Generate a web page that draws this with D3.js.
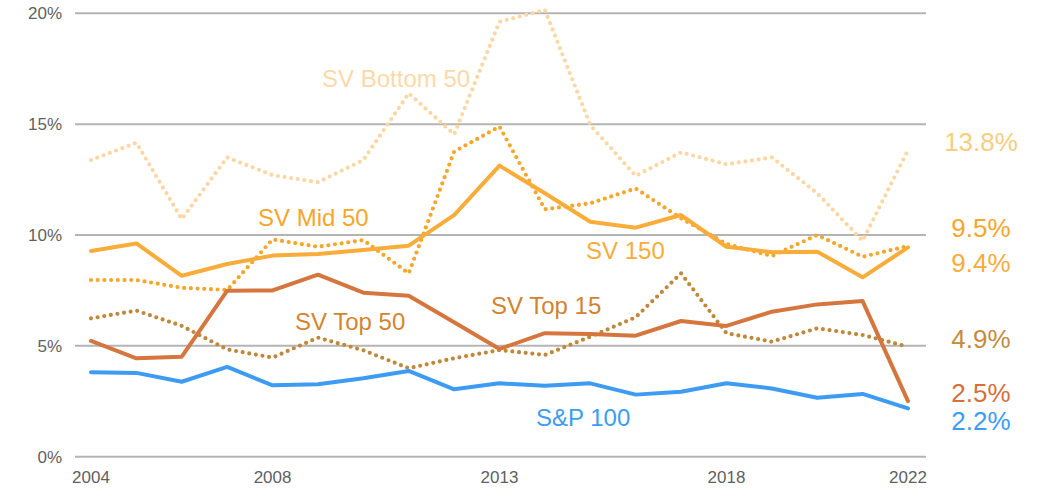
<!DOCTYPE html>
<html>
<head>
<meta charset="utf-8">
<script src="https://cdn.jsdelivr.net/npm/d3@7"></script>
<style>
  html, body { margin: 0; padding: 0; background: #fff; }
  svg { display: block; font-family: "Liberation Sans", Arial, sans-serif; }
</style>
</head>
<body>
<svg id="chart" width="1051" height="492"></svg>
<script>
const years = [2004,2005,2006,2007,2008,2009,2010,2011,2012,2013,2014,2015,2016,2017,2018,2019,2020,2021,2022];
const xTickLabels = [2004, 2008, 2013, 2018, 2022];
const yTicks = [0, 5, 10, 15, 20];

const sp100      = [3.81,3.78,3.38,4.05,3.22,3.27,3.54,3.87,3.04,3.31,3.20,3.31,2.80,2.93,3.31,3.08,2.66,2.83,2.18];
const svTop15    = [5.22,4.44,4.51,7.49,7.50,8.21,7.40,7.26,6.06,4.86,5.57,5.53,5.46,6.12,5.90,6.54,6.87,7.02,2.51];
const svTop50    = [6.24,6.59,5.90,4.84,4.47,5.37,4.80,3.99,4.44,4.81,4.59,5.41,6.29,8.27,5.57,5.19,5.79,5.49,4.96];
const sv150      = [9.28,9.62,8.16,8.69,9.07,9.14,9.32,9.52,10.90,13.13,11.88,10.60,10.33,10.90,9.47,9.22,9.25,8.09,9.44];
const svMid50    = [7.97,7.97,7.62,7.52,9.80,9.47,9.77,8.27,13.76,14.89,11.16,11.43,12.10,10.75,9.60,9.05,10.00,9.02,9.50];
const svBottom50 = [13.38,14.16,10.72,13.50,12.70,12.38,13.38,16.39,14.54,19.62,20.15,14.96,12.67,13.73,13.19,13.50,11.88,9.74,13.83];

const seriesNames = ["SV Bottom 50","SV Mid 50","SV 150","SV Top 50","SV Top 15","S&P 100"];
const seriesValues = [svBottom50, svMid50, sv150, svTop50, svTop15, sp100];
const endLabels = ["13.8%","9.5%","9.4%","4.9%","2.5%","2.2%"];

const styles = {
  "SV Bottom 50": {color:"#fcd7a4", text:"#fcd9a8", label:"#f8cd7e", dotted:true},
  "SV Mid 50":    {color:"#f6a62a", text:"#f6a62a", label:"#f6a62a", dotted:true},
  "SV 150":       {color:"#f8ac3a", text:"#f8ac3a", label:"#f8ac3a", dotted:false},
  "SV Top 50":    {color:"#c2883a", text:"#d4862f", label:"#c48b3c", dotted:true},
  "SV Top 15":    {color:"#d5763f", text:"#d4822f", label:"#d5703a", dotted:false},
  "S&P 100":      {color:"#3d9cf2", text:"#3d9cf2", label:"#3d9cf2", dotted:false}
};
const inlineLabelPos = {
  "SV Bottom 50": [322, 87],
  "SV Mid 50": [258, 226],
  "SV 150": [586, 259],
  "SV Top 50": [295, 330],
  "SV Top 15": [491, 314],
  "S&P 100": [536, 426]
};
const endLabelY = {"SV Bottom 50":151, "SV Mid 50":237, "SV 150":272, "SV Top 50":348, "SV Top 15":402, "S&P 100":430};

const svg = d3.select("#chart");
const x = d3.scalePoint().domain(years).range([91, 908]);
const y = d3.scaleLinear().domain([0, 20]).range([456.7, 13.3]);

svg.append("g").selectAll("line").data(yTicks).join("line")
  .attr("x1", 75).attr("x2", 926)
  .attr("y1", d => y(d)).attr("y2", d => y(d))
  .attr("stroke", "#b4b4b4").attr("stroke-width", 2);

svg.append("g").selectAll("text").data(yTicks).join("text")
  .attr("x", 62).attr("y", d => y(d)).attr("dy", "0.35em")
  .attr("text-anchor", "end").attr("font-size", 17).attr("fill", "#5f5f5f")
  .text(d => d + "%");

svg.append("g").selectAll("text").data(xTickLabels).join("text")
  .attr("x", d => x(d)).attr("y", 483)
  .attr("text-anchor", "middle").attr("font-size", 17).attr("fill", "#5f5f5f")
  .text(d => d);

const line = d3.line().x((d, i) => x(years[i])).y(d => y(d));

seriesNames.forEach((name, si) => {
  const st = styles[name];
  const p = svg.append("path").datum(seriesValues[si])
    .attr("d", line).attr("fill", "none")
    .attr("stroke", st.color)
    .attr("stroke-linejoin", "round")
    .attr("stroke-linecap", "round");
  if (st.dotted) {
    p.attr("stroke-width", 4.2).attr("stroke-dasharray", "0 6.7");
  } else {
    p.attr("stroke-width", 4);
  }
});

seriesNames.forEach((name) => {
  const pos = inlineLabelPos[name];
  svg.append("text").attr("x", pos[0]).attr("y", pos[1])
    .attr("font-size", 24).attr("fill", styles[name].text)
    .text(name);
});

seriesNames.forEach((name, si) => {
  svg.append("text").attr("x", 981).attr("y", endLabelY[name])
    .attr("text-anchor", "middle").attr("font-size", 26)
    .attr("fill", styles[name].label)
    .text(endLabels[si]);
});
</script>
</body>
</html>
